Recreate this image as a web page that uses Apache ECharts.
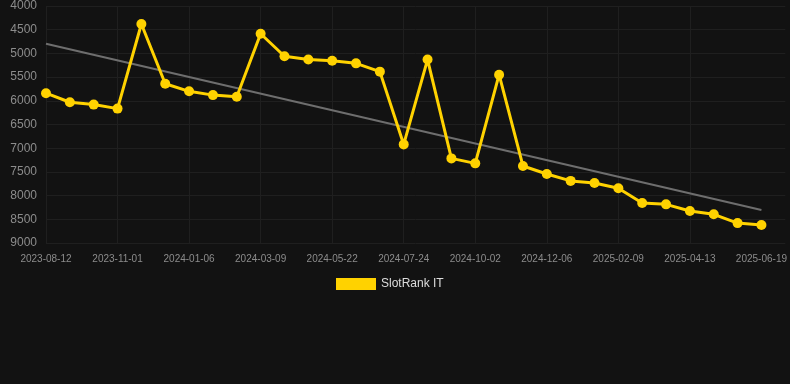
<!DOCTYPE html>
<html>
<head>
<meta charset="utf-8">
<script src="https://cdn.jsdelivr.net/npm/echarts@6/dist/echarts.min.js"></script>
<style>
  html, body { margin: 0; padding: 0; background: #121212; }
  #chart { width: 790px; height: 384px; }
</style>
</head>
<body>
<div id="chart"></div>
<script>
var dates = ['2023-08-12','2023-09-08','2023-10-05','2023-11-01','2023-11-23','2023-12-15','2024-01-06','2024-01-27','2024-02-17','2024-03-09','2024-04-02','2024-04-27','2024-05-22','2024-06-12','2024-07-03','2024-07-24','2024-08-16','2024-09-09','2024-10-02','2024-10-24','2024-11-15','2024-12-06','2024-12-28','2025-01-19','2025-02-09','2025-03-02','2025-03-23','2025-04-13','2025-05-06','2025-05-28','2025-06-19'];
var ranks = [5840,6030,6080,6165,4380,5640,5800,5880,5915,4585,5060,5130,5155,5210,5385,6920,5130,7215,7320,5450,7375,7545,7690,7735,7845,8155,8185,8325,8395,8580,8620];
var trendEnds = [4795, 8305];
var yTicks = { min: 4000, max: 9000, step: 500 };

var textColor = '#8c8c8c';
var gridColor = '#1f1f1f';

var myChart = echarts.init(document.getElementById('chart'));

var option = {
    backgroundColor: '#121212',
    animation: false,
    grid: {
        left: 46,
        right: 4,
        top: 6,
        bottom: 141,
        containLabel: false
    },
    legend: {
        top: 273,
        left: 331,
        itemWidth: 40,
        itemHeight: 12,
        itemGap: 10,
        icon: 'rect',
        textStyle: { color: '#dddddd', fontSize: 12, fontFamily: 'Arial, Liberation Sans' },
        data: ['SlotRank IT']
    },
    xAxis: {
        type: 'category',
        data: dates,
        max: dates.length,
        boundaryGap: false,
        axisLine: { show: false },
        axisTick: { show: false },
        axisLabel: {
            color: textColor,
            fontSize: 10,
            margin: 11,
            interval: 2,
            fontFamily: 'Arial, Liberation Sans'
        },
        splitLine: {
            show: true,
            interval: 2,
            showMaxLine: false,
            lineStyle: { color: gridColor, width: 1 }
        }
    },
    yAxis: {
        type: 'value',
        inverse: true,
        min: yTicks.min,
        max: yTicks.max,
        interval: yTicks.step,
        axisLine: { show: false },
        axisTick: { show: false },
        axisLabel: {
            color: textColor,
            fontSize: 12,
            margin: 9,
            fontFamily: 'Arial, Liberation Sans',
            formatter: function (v) { return String(v); }
        },
        splitLine: { lineStyle: { color: gridColor, width: 1 } }
    },
    series: [
        {
            name: 'SlotRank IT',
            type: 'line',
            data: ranks,
            color: '#FFD200',
            symbol: 'circle',
            symbolSize: 10,
            lineStyle: { width: 3, color: '#FFD200' },
            itemStyle: { color: '#FFD200' },
            z: 3
        },
        {
            name: 'trend',
            type: 'line',
            data: [[dates[0], trendEnds[0]], [dates[dates.length - 1], trendEnds[1]]],
            symbol: 'none',
            lineStyle: { width: 2, color: '#6e6e6e' },
            silent: true,
            z: 2
        }
    ]
};

myChart.setOption(option);
</script>
</body>
</html>
